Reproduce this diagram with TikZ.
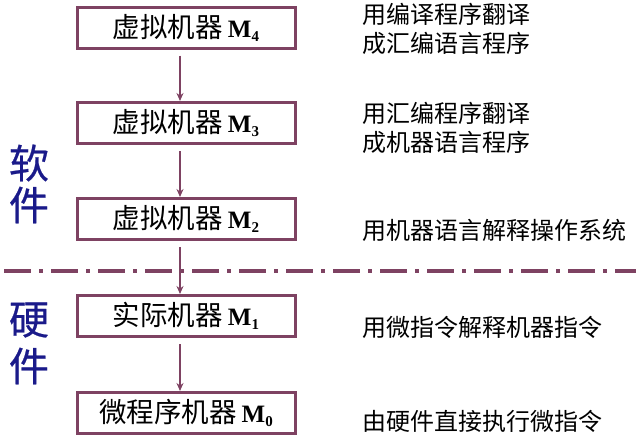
\documentclass[tikz,border=0pt]{standalone}
\usepackage{fontspec}
\setmainfont{Liberation Serif}
\newfontfamily\cjk{Noto Sans CJK SC}
\newfontfamily\cjkside[FakeBold=0.6]{Noto Sans CJK SC}
\usetikzlibrary{arrows.meta}
\definecolor{maroon}{HTML}{7E4262}
\definecolor{sideblue}{HTML}{1A1A8A}
\tikzset{
  machine/.style={draw=maroon, line width=3pt, minimum width=218pt, minimum height=41pt, inner sep=0pt},
  flow/.style={draw=maroon, line width=2pt, -{Stealth[length=8pt,width=7pt]}},
  note/.style={anchor=west, align=left, inner sep=0pt, font=\cjk\fontsize{24pt}{28.5pt}\selectfont},
  side/.style={text=sideblue, inner sep=0pt, font=\cjkside\fontsize{40pt}{48pt}\selectfont},
  divider/.style={draw=maroon, line width=4pt, dash pattern=on 27pt off 8pt on 4pt off 8pt}
}
\newcommand{\mach}[2]{{\cjk\fontsize{27.5pt}{30pt}\selectfont #1}\hspace{5pt}{\fontsize{25pt}{28pt}\selectfont\textbf{M}\raisebox{-4pt}{\fontsize{15pt}{17pt}\selectfont\textbf{#2}}}}
\begin{document}
\begin{tikzpicture}[x=1pt,y=-1pt]
\useasboundingbox (0,0) rectangle (640,445);
\node[machine] (m4) at (186,27.5) {\mach{虚拟机器}{4}};
\node[machine] (m3) at (186,123) {\mach{虚拟机器}{3}};
\node[machine] (m2) at (186,219) {\mach{虚拟机器}{2}};
\node[machine] (m1) at (186,316) {\mach{实际机器}{1}};
\node[machine] (m0) at (186,413) {\mach{微程序机器}{0}};
\coordinate (dl) at (4,271);
\coordinate (dr) at (636,271);
\draw[divider] (dl) -- (dr);
\foreach \a/\b in {m4/m3, m3/m2, m2/m1, m1/m0}{
  \draw[flow] ([xshift=-6pt,yshift=-6pt]\a.south) -- ([xshift=-6pt]\b.north);
}
\node[note] (t4) at (362,29) {用编译程序翻译\\成汇编语言程序};
\node[note] (t3) at (362,128) {用汇编程序翻译\\成机器语言程序};
\node[note] (t2) at (362,230) {用机器语言解释操作系统};
\node[note] (t1) at (362,327) {用微指令解释机器指令};
\node[note] (t0) at (362,421) {由硬件直接执行微指令};
\node[side] (s1) at (29,163) {软};
\node[side] (s2) at (29,205) {件};
\node[side] (h1) at (29,320) {硬};
\node[side] (h2) at (29,366) {件};
\end{tikzpicture}
\end{document}
